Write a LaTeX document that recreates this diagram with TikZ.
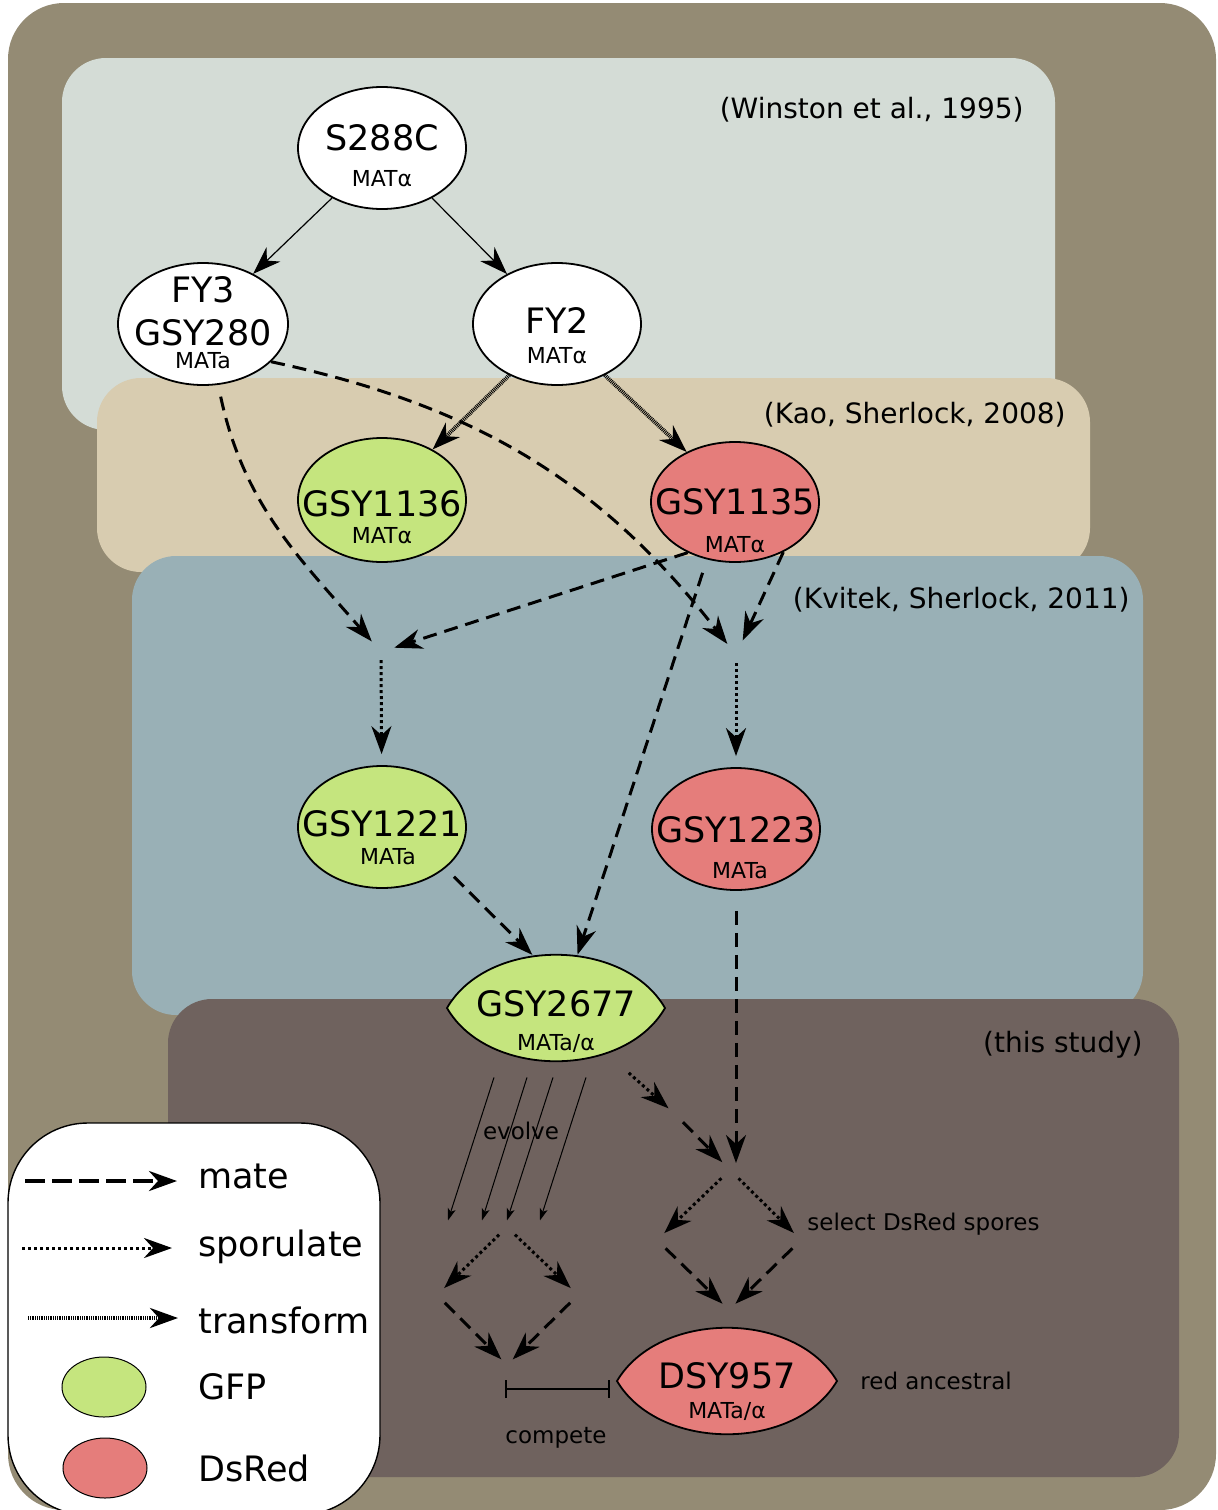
\documentclass[tikz,border=0pt]{standalone}
\usepackage{fontspec}
\setmainfont{DejaVu Sans}
\usetikzlibrary{arrows.meta,shapes.geometric}

\definecolor{outerbg}{RGB}{148,139,116}
\definecolor{winstonbg}{RGB}{212,220,214}
\definecolor{kaobg}{RGB}{216,204,176}
\definecolor{kvitekbg}{RGB}{153,176,182}
\definecolor{studybg}{RGB}{111,98,94}
\definecolor{gfpgreen}{RGB}{197,229,126}
\definecolor{dsredpink}{RGB}{229,125,123}

\newcommand\strainfont{\fontsize{17.5}{14}\selectfont}
\newcommand\matfont{\fontsize{11}{13}\selectfont}
\newcommand\citefont{\fontsize{14}{16}\selectfont}
\newcommand\stepfont{\fontsize{11.5}{13}\selectfont}
\newcommand\legendfont{\fontsize{17.5}{20}\selectfont}

\tikzset{
  strain/.style={ellipse, draw, line width=0.9pt, inner sep=-20pt,
    minimum width=84pt, minimum height=61pt, align=center,
    font=\strainfont, text depth=0pt},
  wt/.style={strain, fill=white},
  gfp/.style={strain, fill=gfpgreen},
  dsred/.style={strain, fill=dsredpink},
  hybrid/.style={strain, draw=none, minimum width=109pt, minimum height=53.5pt},
  stage/.style={rounded corners=22pt},
  citation/.style={font=\citefont, anchor=base east, inner xsep=0pt},
  steplabel/.style={font=\stepfont, inner xsep=0pt},
  legendtext/.style={font=\legendfont, anchor=base west, inner xsep=0pt},
  tip/.style={-{Stealth[length=14pt,width=10pt,inset=4.5pt]}},
  growth/.style={tip, line width=0.6pt},
  mating/.style={tip, line width=1.5pt, dash pattern=on 7pt off 4pt},
  sporulation/.style={tip, line width=1.5pt, dash pattern=on 1.5pt off 1.5pt},
  transformation/.style={tip, line width=2pt, dash pattern=on 0.45pt off 0.45pt},
  evolution/.style={-{Stealth[length=6pt,width=4pt,inset=1.5pt]}, line width=0.5pt},
  compete/.style={{Bar[width=9pt]}-{Bar[width=9pt]}, line width=1pt}
}

\begin{document}
\begin{tikzpicture}[x=0.5pt,y=-0.5pt]
\useasboundingbox (0,0) rectangle (1217,1510);

% stages
\fill[outerbg, rounded corners=28pt] (8,3) rectangle (1216,1510);
\fill[winstonbg, stage] (62,58) rectangle (1055,430);
\fill[kaobg, stage] (97,378) rectangle (1090,572);
\fill[kvitekbg, stage] (132,556) rectangle (1143,1015);
\fill[studybg, stage] (168,999) rectangle (1179,1477);

\node[citation] (winston) at (1024,118) {(Winston et al., 1995)};
\node[citation] (kao) at (1066,423) {(Kao, Sherlock, 2008)};
\node[citation] (kvitek) at (1130,608) {(Kvitek, Sherlock, 2011)};
\node[citation] (thisstudy) at (1143,1052) {(this study)};

% legend
\draw[fill=white, line width=0.7pt, rounded corners=40pt] (8,1123) rectangle (380,1515);
\coordinate (lgmateA) at (25,1181);
\coordinate (lgmateB) at (177,1181);
\coordinate (lgsporA) at (22,1248);
\coordinate (lgsporB) at (172,1248);
\coordinate (lgtransA) at (28,1318);
\coordinate (lgtransB) at (178,1318);
\draw[mating, line width=2pt, dash pattern=on 10pt off 3.5pt] (lgmateA) -- (lgmateB);
\draw[sporulation] (lgsporA) -- (lgsporB);
\draw[transformation] (lgtransA) -- (lgtransB);
\node[ellipse, draw, fill=gfpgreen, line width=0.5pt, minimum width=42pt, minimum height=30pt] (lggfp) at (104,1387) {};
\node[ellipse, draw, fill=dsredpink, line width=0.5pt, minimum width=42pt, minimum height=30pt] (lgdsred) at (105,1468) {};
\node[legendtext] (lgmate) at (198,1188) {mate};
\node[legendtext] (lgspor) at (198,1256) {sporulate};
\node[legendtext] (lgtrans) at (198,1333) {transform};
\node[legendtext] (lggfptext) at (198,1399) {GFP};
\node[legendtext] (lgdsredtext) at (198,1481) {DsRed};

% strains
\node[wt, text height=38pt] (s288c) at (382,148) {S288C\\[4pt]\matfont MATα};
\node[wt, text height=44pt, minimum width=85pt] (fy3) at (203,324) {FY3\\[7.5pt]GSY280\\[-2.5pt]\matfont MATa};
\node[wt, text height=39pt] (fy2) at (557,324) {FY2\\[1pt]\matfont MATα};
\node[gfp, text height=43pt, minimum height=62pt] (gsy1136) at (382,500) {GSY1136\\[-0.5pt]\matfont MATα};
\node[dsred, text height=50pt, minimum height=60pt] (gsy1135) at (735,502) {GSY1135\\[5pt]\matfont MATα};
\node[gfp, text height=37pt] (gsy1221) at (382,827) {GSY1221\\\matfont\hspace*{6pt}MATa};
\node[dsred, text height=49pt] (gsy1223) at (736,829) {GSY1223\\[4pt]\matfont\hspace*{4pt}MATa};

\filldraw[fill=gfpgreen, line width=0.9pt] (447,1008) .. controls (488,937) and (624,937) .. (665,1008)
  .. controls (624,1079) and (488,1079) .. (447,1008) -- cycle;
\node[hybrid, text height=42pt] (gsy2677) at (556,1008) {GSY2677\\[3pt]\matfont MATa/α};
\filldraw[fill=dsredpink, line width=0.9pt] (617,1381) .. controls (659,1310) and (795,1310) .. (837,1381)
  .. controls (795,1452) and (659,1452) .. (617,1381) -- cycle;
\node[hybrid, text height=37pt, minimum width=110pt] (dsy957) at (727,1381) {DSY957\\[1pt]\matfont MATa/α};

% crossing points
\coordinate (zyg1) at (381,652);
\coordinate (zyg2) at (736,655);
\coordinate (spo) at (676,1115);
\coordinate (zyg3) at (730,1170);
\coordinate (evo) at (507,1227);
\coordinate (spl) at (437,1295);
\coordinate (spr) at (578,1295);
\coordinate (pool) at (507,1365);
\coordinate (sp3l) at (657,1240);
\coordinate (sp3r) at (801,1240);
\coordinate (sel) at (729,1310);

\draw[growth] (s288c.225) -- (fy3.45);
\draw[growth] (s288c.-45) -- (fy2.135);
\draw[transformation] (fy2.227) -- (gsy1136.45);
\draw[transformation] (fy2.-47) -- (gsy1135.134);

\draw[mating, shorten <=6pt, shorten >=7pt] (fy3.-76) to[out=-78, in=131] (zyg1);
\draw[mating, shorten >=7pt] (fy3.-29) to[out=-12, in=128] (zyg2);
\draw[mating, shorten >=7pt] (gsy1135.227) -- (zyg1);
\draw[mating, shorten >=8pt] (gsy1135.-46) -- (zyg2);
\draw[mating, shorten <=7pt] (gsy1135.-116) -- (gsy2677.68);
\draw[sporulation, shorten <=4pt, shorten >=5.5pt] (zyg1) -- (gsy1221);
\draw[sporulation, shorten <=4pt, shorten >=5.5pt] (zyg2) -- (gsy1223);
\draw[mating, shorten <=6pt] (gsy1221.-33) -- (gsy2677.114);
\draw[mating, shorten <=10pt, shorten >=3.5pt] (gsy1223.south) -- (gsy1223.south |- zyg3);

\draw[sporulation, shorten <=13pt, shorten >=5pt] (gsy2677) -- (spo);
\draw[mating, shorten <=5pt, shorten >=5.5pt] (spo) -- (zyg3);

\foreach \s/\e in {-62/-108, -29/-74, -3/-49, 30/-16}
  \draw[evolution] ([shift={(\s,15)}]gsy2677.south) -- ([shift={(\e,158)}]gsy2677.south);
\node[steplabel, anchor=base] (evolvetxt) at (521,1139) {evolve};

\draw[sporulation, shorten <=5.5pt, shorten >=5pt] (evo) -- (spl);
\draw[sporulation, shorten <=5.5pt, shorten >=5pt] (evo) -- (spr);
\draw[mating, shorten <=5.5pt, shorten >=4pt] (spl) -- (pool);
\draw[mating, shorten <=5.5pt, shorten >=4pt] (spr) -- (pool);

\draw[sporulation, shorten <=6pt, shorten >=5pt] (zyg3) -- (sp3l);
\draw[sporulation, shorten <=6pt, shorten >=5pt] (zyg3) -- (sp3r);
\draw[mating, shorten <=6pt, shorten >=4.5pt] (sp3l) -- (sel);
\draw[mating, shorten <=6pt, shorten >=4.5pt] (sp3r) -- (sel);
\node[steplabel, anchor=base west] (selecttxt) at (807,1230) {select DsRed spores};

\draw[compete] ([shift={(-2,24)}]pool) -- ([shift={(-6,8)}]dsy957.west);
\node[steplabel, anchor=base] (competetxt) at (556,1443) {compete};
\node[steplabel, anchor=base west] (ancestraltxt) at (860,1389) {red ancestral};
\end{tikzpicture}
\end{document}
